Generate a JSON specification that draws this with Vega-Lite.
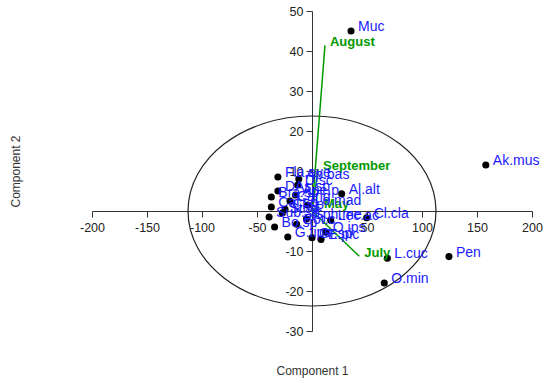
{
  "$schema": "https://vega.github.io/schema/vega-lite/v6.json",
  "width": 440,
  "height": 320,
  "autosize": {"type": "none"},
  "padding": {"left": 92, "top": 11, "right": 18, "bottom": 52},
  "background": "white",
  "config": {"view": {"stroke": null}, "font": "Liberation Sans"},
  "datasets": {
    "ellipse": [{"x": 0, "y": 0}],
    "vectors": [
      {"name": "August", "x": 11.8, "y": 41.4, "x0": 0, "y0": 0},
      {"name": "September", "x": 5.5, "y": 10.5, "x0": 0, "y0": 0},
      {"name": "May", "x": 6.4, "y": 1.0, "x0": 0, "y0": 0},
      {"name": "July", "x": 43, "y": -11.3, "x0": 0, "y0": 0}
    ],
    "species": [
      {"name": "Muc", "x": 35.5, "y": 45},
      {"name": "Ak.mus", "x": 158, "y": 11.5},
      {"name": "Pen", "x": 124.5, "y": -11.4},
      {"name": "L.cuc", "x": 68.5, "y": -11.8},
      {"name": "O.min", "x": 65.7, "y": -18},
      {"name": "Cl.cla", "x": 49.7, "y": -1.7},
      {"name": "Al.alt", "x": 27, "y": 4.3},
      {"name": "Fla.ave", "x": -31, "y": 8.5},
      {"name": "Ap.bas", "x": -12, "y": 8},
      {"name": "D.sc", "x": -13, "y": 6.5},
      {"name": "DAs.sp", "x": -31, "y": 5},
      {"name": "Ape.p", "x": -15, "y": 4},
      {"name": "Bra.sp", "x": -37, "y": 3.5},
      {"name": "Cand", "x": -20, "y": 2.5},
      {"name": "Cal.sp", "x": -37, "y": 1},
      {"name": "Cl.sp", "x": -24.5, "y": 0.4},
      {"name": "Lo.mad", "x": -4, "y": 1.5},
      {"name": "Sub.sp", "x": -39, "y": -1.5},
      {"name": "Strig", "x": -27, "y": -0.5},
      {"name": "Lec.ac", "x": 17, "y": -2.3},
      {"name": "Sph.me", "x": -5, "y": -2},
      {"name": "Bo.sp", "x": -34, "y": -4},
      {"name": "Bot.c", "x": -14, "y": -3.3},
      {"name": "O.ips", "x": 12.5, "y": -5.3},
      {"name": "G.tips", "x": -22, "y": -6.5},
      {"name": "Gr.sp", "x": 0, "y": -6.7},
      {"name": "E.pic", "x": 8.2, "y": -7.1}
    ]
  },
  "encoding": {
    "x": {
      "field": "x",
      "type": "quantitative",
      "scale": {"domain": [-200, 200], "nice": false, "zero": false},
      "axis": {
        "orient": "bottom",
        "offset": -120,
        "values": [-200, -150, -100, -50, 50, 100, 150, 200],
        "labelExpr": "datum.value < 0 ? '-' + abs(datum.value) : '' + datum.value",
        "grid": false,
        "domainColor": "#333333",
        "tickColor": "#333333",
        "tickSize": 6,
        "labelPadding": 4,
        "labelFont": "Liberation Sans",
        "labelFontSize": 12.5,
        "labelColor": "#222222",
        "labelFlush": false,
        "labelOverlap": false,
        "title": "Component 1",
        "titleFont": "Liberation Sans",
        "titleFontSize": 12,
        "titleFontWeight": "normal",
        "titleColor": "#333333",
        "titleX": 220,
        "titleY": 159,
        "titleBaseline": "middle"
      }
    },
    "y": {
      "field": "y",
      "type": "quantitative",
      "scale": {"domain": [-30, 50], "nice": false, "zero": false},
      "axis": {
        "orient": "left",
        "offset": -220,
        "values": [-30, -20, -10, 10, 20, 30, 40, 50],
        "labelExpr": "datum.value < 0 ? '-' + abs(datum.value) : '' + datum.value",
        "grid": false,
        "domainColor": "#333333",
        "tickColor": "#333333",
        "tickSize": 6,
        "labelPadding": 3,
        "labelFont": "Liberation Sans",
        "labelFontSize": 12.5,
        "labelColor": "#222222",
        "labelFlush": false,
        "labelOverlap": false,
        "title": "Component 2",
        "titleFont": "Liberation Sans",
        "titleFontSize": 12,
        "titleFontWeight": "normal",
        "titleColor": "#333333",
        "titleX": -297,
        "titleY": 160,
        "titleBaseline": "middle"
      }
    }
  },
  "layer": [
    {
      "data": {"name": "ellipse"},
      "mark": {
        "type": "point",
        "shape": "M-1,0C-1,-0.423 -0.552,-0.766 0,-0.766C0.552,-0.766 1,-0.423 1,0C1,0.423 0.552,0.766 0,0.766C-0.552,0.766 -1,0.423 -1,0Z",
        "size": 61504,
        "filled": false,
        "stroke": "#222222",
        "strokeWidth": 1.2,
        "opacity": 1
      }
    },
    {
      "data": {"name": "species"},
      "mark": {"type": "circle", "size": 50, "color": "black", "opacity": 1}
    },
    {
      "data": {"name": "vectors"},
      "mark": {"type": "rule", "color": "#009900", "strokeWidth": 1.5},
      "encoding": {
        "x2": {"field": "x0"},
        "y2": {"field": "y0"}
      }
    },
    {
      "data": {"name": "vectors"},
      "mark": {"type": "text", "align": "left", "baseline": "middle", "dx": 5, "dy": -3, "fontSize": 13, "fontWeight": "bold", "color": "#009900", "font": "Liberation Sans"},
      "encoding": {"text": {"field": "name"}}
    },
    {
      "data": {"name": "species"},
      "mark": {"type": "text", "align": "left", "baseline": "middle", "dx": 7, "dy": -4, "fontSize": 14, "color": "#1a1aff", "font": "Liberation Sans"},
      "encoding": {"text": {"field": "name"}}
    }
  ]
}
